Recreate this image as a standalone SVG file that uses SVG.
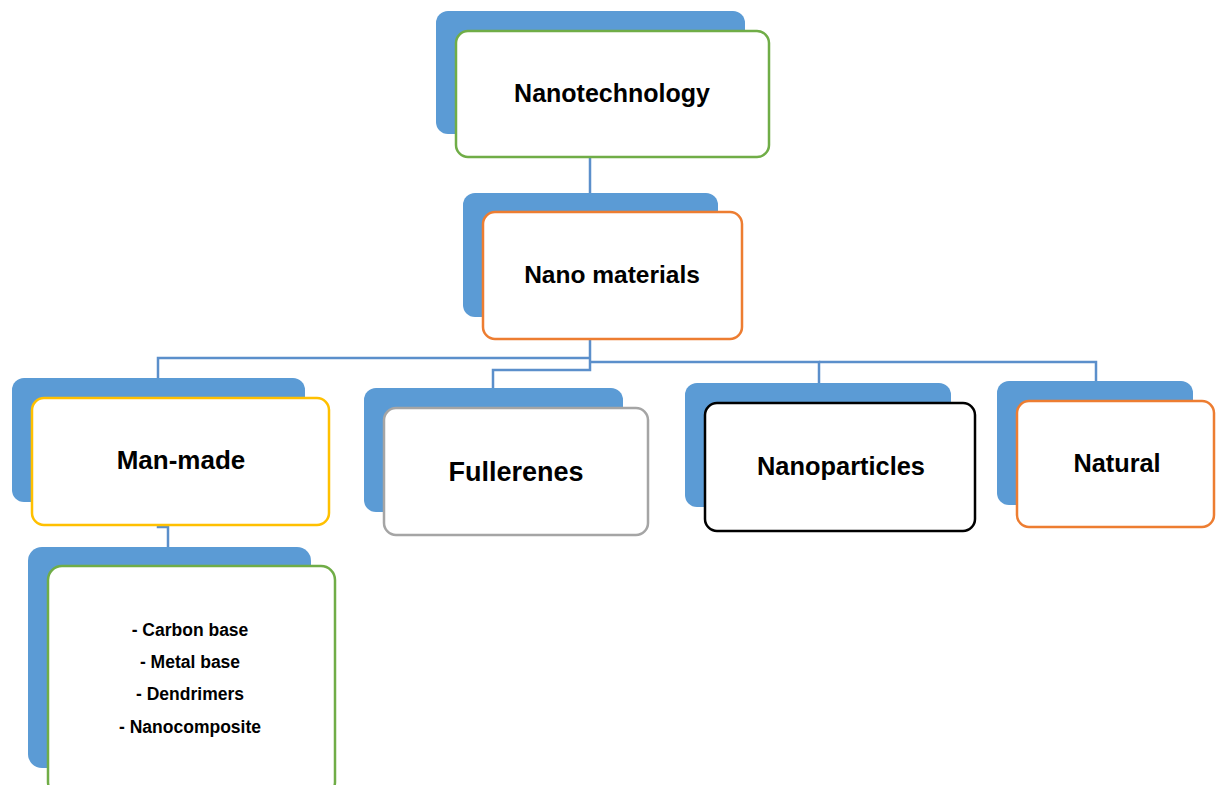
<svg xmlns="http://www.w3.org/2000/svg" width="1216" height="785" viewBox="0 0 1216 785">
<style>
.back{fill:#5B9BD5;}
.front{fill:#FFFFFF;stroke-width:2.5;}
.lbl{font-family:"Liberation Sans",Arial,sans-serif;font-weight:bold;fill:#000;text-anchor:middle;}
.conn{fill:none;stroke:#5B8FCB;stroke-width:2.5;}
</style>
<rect width="1216" height="785" fill="#FFFFFF"/>
<g id="connectors">
<path class="conn" d="M590 134 V193"/>
<path class="conn" d="M590 317 V370 H493 V388"/>
<path class="conn" d="M590 358 H158 V378"/>
<path class="conn" d="M590 362 H819 V383"/>
<path class="conn" d="M819 362 H1096 V381"/>
<path class="conn" d="M158 502 V527 H168 V547"/>
</g>
<g id="nanotechnology">
<rect class="back" x="436" y="11" width="309" height="123" rx="12"/>
<rect class="front" x="456" y="31" width="313" height="126" rx="12" stroke="#70AD47"/>
<text class="lbl" x="612" y="102" font-size="25">Nanotechnology</text>
</g>
<g id="nano-materials">
<rect class="back" x="463" y="193" width="255" height="124" rx="12"/>
<rect class="front" x="483" y="212" width="259" height="127" rx="12" stroke="#ED7D31"/>
<text class="lbl" x="612" y="283" font-size="24.5">Nano materials</text>
</g>
<g id="man-made">
<rect class="back" x="12" y="378" width="293" height="124" rx="12"/>
<rect class="front" x="32" y="398" width="297" height="127" rx="12" stroke="#FFC000"/>
<text class="lbl" x="181" y="469" font-size="26">Man-made</text>
</g>
<g id="fullerenes">
<rect class="back" x="364" y="388" width="259" height="124" rx="12"/>
<rect class="front" x="384" y="408" width="264" height="127" rx="12" stroke="#A5A5A5"/>
<text class="lbl" x="516" y="481" font-size="27">Fullerenes</text>
</g>
<g id="nanoparticles">
<rect class="back" x="685" y="383" width="266" height="124" rx="12"/>
<rect class="front" x="705" y="403" width="270" height="128" rx="12" stroke="#000000"/>
<text class="lbl" x="841" y="475" font-size="25.4">Nanoparticles</text>
</g>
<g id="natural">
<rect class="back" x="997" y="381" width="196" height="124" rx="12"/>
<rect class="front" x="1017" y="401" width="197" height="126" rx="12" stroke="#ED7D31"/>
<text class="lbl" x="1117" y="472" font-size="25.3">Natural</text>
</g>
<g id="man-made-types">
<rect class="back" x="28" y="547" width="283" height="221" rx="14"/>
<rect class="front" x="48" y="566" width="287" height="230" rx="14" stroke="#70AD47"/>
<text class="lbl" x="190" y="636" font-size="17.5">- Carbon base</text>
<text class="lbl" x="190" y="668" font-size="17.5">- Metal base</text>
<text class="lbl" x="190" y="700" font-size="17.5">- Dendrimers</text>
<text class="lbl" x="190" y="733" font-size="17.5">- Nanocomposite</text>
</g>
</svg>
